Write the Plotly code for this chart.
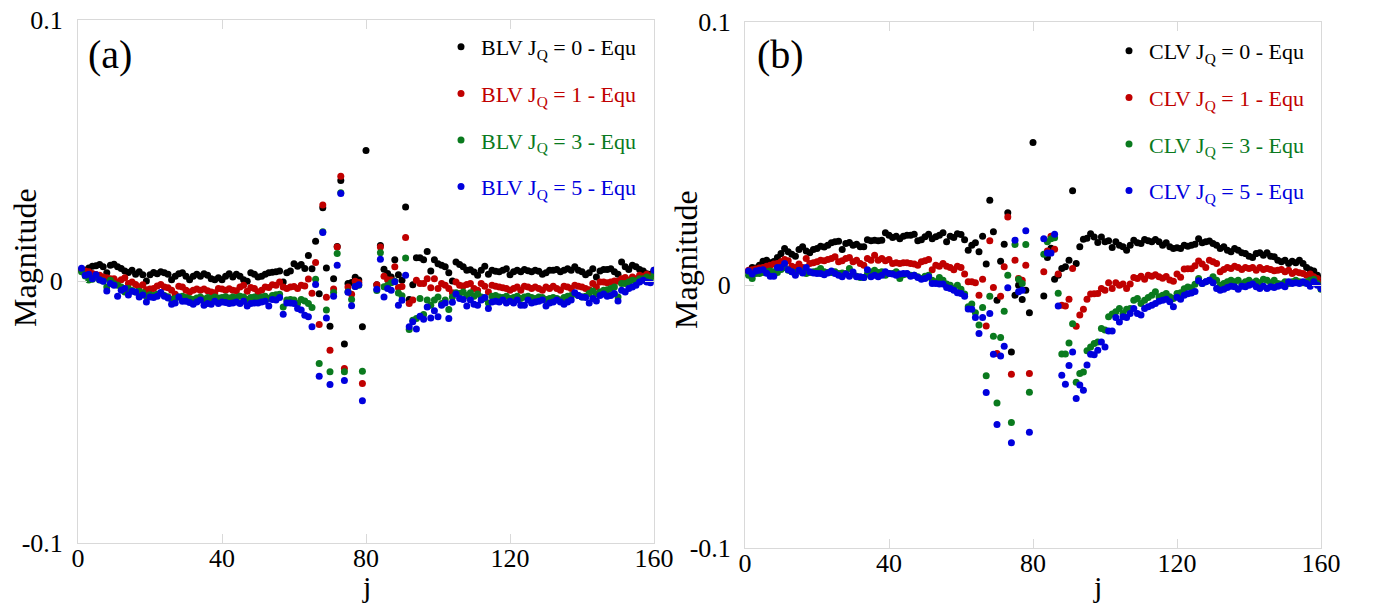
import plotly.graph_objects as go

# site index j = 1..160
j = list(range(1, 161))

# ---- Panel (a): BLV minus equilibrium, values in units of 1e-3 ----
blv_jq0 = [4.5, 4.2, 5.1, 5.7, 5.9, 6.4, 5.5, 3.2, 6.1, 6.5,
           5.5, 4.9, 3.9, 3.3, 4.2, 2.7, 3.6, 2.5, 0.1, 2.5,
           3.3, 2.9, 3.6, 3.2, 2.7, 0.6, 1.9, 2.9, 3.2, 1.9,
           0.6, 1.9, 2.7, 1.9, 2.9, 2.3, 1.0, 0.6, 1.3, 0.6,
           1.9, 2.9, 1.6, 2.7, 1.9, 0.6, 0.0, 3.2, 2.7, 1.6,
           1.9, 2.7, 3.2, 3.4, 3.6, 3.9, -0.3, 3.2, 3.9, 6.7,
           5.7, 6.4, 4.9, 9.8, 4.8, 15.3, -4.8, 28.1, 5.1, -17.2,
           1.0, 13.3, 38.5, -24.0, -0.9, -0.5, 1.5, 0.5, -17.4, 50.0,
           None, None, -1.3, 13.7, 4.6, 3.0, 1.6, 8.2, 2.5, 0.4,
           28.4, -7.0, -1.3, 9.0, 9.0, 8.2, 11.4, 3.9, 8.2, 6.7,
           6.1, 5.5, 3.2, 0.1, 7.4, 6.4, 5.5, 4.2, 4.4, 3.5,
           2.3, 4.2, 5.7, 2.7, 4.2, 3.8, 3.6, 4.2, 4.8, 2.5,
           3.6, 4.2, 3.6, 4.5, 4.0, 3.6, 4.2, 3.8, 2.7, 3.2,
           4.2, 4.2, 4.5, 3.6, 4.2, 4.8, 4.2, 5.5, 4.2, 3.6,
           2.5, 3.2, 4.8, 1.6, 3.9, 4.5, 4.5, 4.8, 3.6, 2.7,
           7.4, 5.5, 4.5, 6.1, 5.5, 4.5, 3.9, 2.9, 2.7, 4.2]
blv_jq1 = [4.2, 3.9, 3.6, 3.0, 2.6, 2.3, 1.6, 1.3, 1.0, 1.0,
           -0.3, 0.6, 1.3, -0.9, -0.3, -1.2, -2.2, -1.3, -3.2, -3.0,
           -2.8, -1.8, -1.2, -2.2, -2.5, -3.4, -5.0, -1.9, -2.2, -3.4,
           -4.1, -3.4, -3.0, -3.4, -3.0, -3.6, -4.1, -4.4, -2.8, -3.0,
           -3.4, -2.9, -3.4, -3.6, -2.2, -1.5, -3.8, -2.4, -2.8, -4.1,
           -3.4, -2.2, -2.4, -1.3, -1.5, -0.3, -2.2, -2.8, -2.2, -2.0,
           -2.8, -1.5, -1.8, 0.9, -4.6, 7.2, -16.5, 29.1, -6.1, -26.4,
           -3.0, 13.1, 40.1, -33.3, -2.2, -5.0, 0.0, -0.5, -39.1, None,
           None, None, -1.3, 13.1, 1.9, 0.6, 0.5, 5.5, -2.4, -2.0,
           16.7, -8.5, -7.2, 0.4, -0.9, -0.9, 1.0, -2.5, 1.0, -2.8,
           -0.9, -1.5, -2.8, -4.4, -0.3, -1.5, -1.8, -1.2, -0.9, -2.8,
           -3.4, -0.9, -1.9, -4.1, -1.5, -1.9, -2.2, -2.5, -2.8, -3.4,
           -2.8, -2.2, -3.4, -1.9, -2.2, -2.8, -2.2, -2.8, -3.4, -2.2,
           -2.8, -1.9, -2.8, -3.4, -1.9, -2.2, -2.8, -1.5, -1.9, -2.2,
           -2.8, -3.2, -0.9, -2.2, -0.3, -0.3, -0.6, -0.3, 0.1, 0.0,
           1.0, 1.4, 0.4, 1.6, 1.0, 2.3, 1.9, 2.7, 1.6, 3.2]
blv_jq3 = [3.6, 2.0, 0.5, 0.8, 1.6, 0.5, 0.1, -2.2, 0.4, -1.0,
           -1.5, -2.2, -4.1, -2.8, -3.5, -4.1, -3.8, -4.4, -5.7, -5.2,
           -5.4, -5.0, -4.6, -5.4, -5.9, -7.0, -6.6, -6.0, -5.7, -6.2,
           -6.6, -7.0, -6.4, -6.0, -6.8, -6.2, -6.6, -6.0, -6.4, -6.2,
           -5.9, -6.4, -6.0, -6.2, -5.7, -6.0, -7.0, -6.2, -6.0, -6.4,
           -6.0, -5.7, -6.6, -5.4, -5.2, -5.0, -9.8, -7.2, -7.0, -7.2,
           -8.5, -7.0, -7.5, -8.5, -10.0, 0.8, -31.4, 18.9, -11.0, -34.6,
           -4.3, 10.6, 33.8, -34.6, -4.0, -7.0, -2.0, -1.5, -34.4, None,
           None, None, -3.5, 10.9, -2.1, -1.5, -0.6, 0.0, -4.5, -5.5,
           8.9, -18.4, -14.9, -14.2, -6.6, -12.7, -7.2, -9.2, -7.2, -6.0,
           -8.5, -7.2, -10.8, -6.0, -4.4, -4.7, -4.1, -5.4, -4.4, -5.7,
           -4.9, -6.0, -6.6, -8.3, -5.7, -5.4, -6.0, -6.2, -5.7, -6.6,
           -6.2, -5.7, -6.6, -6.0, -5.7, -6.2, -6.6, -6.0, -6.2, -7.0,
           -6.6, -6.2, -6.6, -7.2, -6.2, -5.7, -5.4, -4.9, -5.4, -6.0,
           -5.7, -4.7, -3.7, -4.9, -4.1, -3.4, -3.2, -2.8, -2.2, -6.0,
           -0.9, -0.9, -0.3, 0.4, 0.1, 1.0, 1.0, 1.6, 1.0, 2.9]
blv_jq5 = [5.0, 2.3, 2.7, 1.0, 2.5, 0.6, 0.0, -3.7, -0.9, -1.5,
           -5.7, -3.4, -2.8, -5.3, -3.8, -4.1, -6.0, -5.3, -7.9, -6.0,
           -6.2, -5.7, -4.3, -5.7, -6.4, -8.8, -8.3, -6.0, -7.6, -7.6,
           -8.1, -8.8, -7.9, -7.2, -9.2, -8.5, -8.8, -7.6, -8.5, -7.9,
           -8.1, -8.5, -8.3, -7.9, -8.5, -7.6, -9.5, -8.5, -8.3, -8.3,
           -7.9, -7.6, -9.5, -7.0, -7.2, -6.2, -12.6, -8.3, -8.3, -8.5,
           -10.4, -11.0, -13.0, -13.6, -17.4, -1.2, -36.3, 18.6, -14.0, -39.4,
           -5.7, 6.1, 33.5, -37.9, -4.2, -9.4, -2.0, -1.3, -45.7, None,
           None, None, -3.1, 8.4, -6.0, -2.8, -3.4, -0.2, -9.2, -7.3,
           2.3, -17.4, -15.5, -18.2, -13.4, -14.5, -9.8, -14.0, -11.3, -13.6,
           -9.2, -8.3, -14.2, -8.0, -4.9, -6.6, -7.0, -9.5, -7.2, -8.8,
           -9.2, -7.2, -6.2, -10.4, -7.9, -7.6, -7.9, -7.2, -8.3, -7.6,
           -8.3, -7.2, -9.2, -9.2, -7.2, -8.3, -7.9, -7.6, -7.2, -9.5,
           -8.3, -7.9, -7.2, -7.9, -8.8, -7.9, -7.2, -4.4, -5.4, -6.0,
           -6.2, -8.3, -6.6, -7.5, -5.4, -4.9, -5.7, -5.4, -4.7, -7.5,
           -3.4, -4.1, -2.8, -2.2, -1.5, -0.3, 0.4, -0.3, -0.6, 4.2]

# ---- Panel (b): CLV minus equilibrium, values in units of 1e-3 ----
clv_jq0 = [5.1, 6.7, 6.5, 7.6, 9.1, 9.5, 8.5, 9.0, 10.5, 12.0,
           13.9, 12.7, 11.8, 11.0, 13.6, 14.6, 13.0, 12.3, 13.6, 13.9,
           14.8, 14.5, 15.2, 16.1, 16.5, 16.7, 13.6, 15.8, 16.2, 15.2,
           15.6, 14.6, 14.6, 17.3, 16.9, 17.1, 16.9, 17.1, 19.9, 19.0,
           18.1, 18.6, 17.7, 18.6, 19.0, 19.0, 19.4, 16.9, 17.3, 18.4,
           19.4, 17.7, 18.4, 19.0, 19.9, 16.5, 18.6, 18.1, 19.6, 19.3,
           17.3, 13.3, 15.2, 16.1, 12.7, 18.6, 8.0, 32.3, 20.3, -5.7,
           9.1, 15.6, 27.5, -25.4, -3.8, 0.0, -5.5, -1.9, -10.5, 54.3,
           None, None, -4.1, 10.5, 14.0, 2.2, 3.8, 6.3, 7.0, 9.5,
           35.9, 8.2, 14.6, 17.5, 17.8, 19.6, 18.3, 16.2, 18.3, 16.5,
           16.9, 14.3, 16.5, 15.2, 14.6, 13.3, 15.2, 17.1, 16.1, 15.8,
           17.4, 16.9, 16.5, 17.4, 16.5, 15.2, 16.1, 14.6, 13.9, 14.2,
           13.9, 15.2, 14.8, 15.2, 15.6, 17.7, 16.1, 16.5, 16.8, 15.8,
           15.2, 13.9, 14.6, 13.3, 12.7, 13.9, 13.3, 12.3, 12.0, 11.0,
           10.5, 12.0, 12.3, 11.4, 12.3, 11.0, 10.8, 9.5, 8.9, 9.5,
           8.2, 9.1, 8.5, 9.5, 8.2, 6.7, 5.9, 5.4, 3.8, 2.3]
clv_jq1 = [5.7, 5.9, 6.1, 6.5, 6.7, 7.2, 7.6, 8.0, 8.2, 8.9,
           9.8, 9.3, 7.2, 6.7, 8.0, 6.7, 10.1, 8.2, 8.5, 8.9,
           9.5, 9.3, 9.8, 10.1, 10.8, 8.9, 9.3, 10.1, 10.5, 8.9,
           9.5, 8.2, 7.6, 10.1, 9.5, 11.4, 9.5, 10.1, 9.3, 9.8,
           8.2, 8.5, 8.2, 8.5, 8.5, 8.2, 8.0, 7.6, 8.9, 9.3,
           9.8, 5.9, 7.6, 7.2, 8.2, 7.2, 6.7, 5.9, 7.2, 6.7,
           4.2, 1.3, 1.3, 0.9, -3.8, 2.2, -15.5, 16.9, -0.9, -26.0,
           -4.2, 7.0, 25.9, -33.9, 9.5, 2.5, 1.9, 7.6, -33.6, None,
           None, None, 5.1, 13.0, 18.6, 13.7, 4.2, -7.6, -7.9, -5.4,
           6.3, -15.6, -11.4, -9.2, -5.4, -3.4, -3.3, -3.2, -1.3, -1.9,
           0.9, -1.3, 0.9, 0.0, 0.4, -1.3, 0.4, 2.9, 2.5, 3.4,
           2.2, 3.8, 3.4, 4.0, 3.2, 2.6, 3.3, 2.0, 1.5, 4.2,
           3.0, 6.1, 6.2, 6.2, 7.4, 9.2, 8.0, 6.7, 9.5, 8.9,
           8.2, 5.1, 6.0, 6.7, 6.3, 7.2, 6.7, 6.0, 6.7, 6.3,
           6.7, 5.7, 6.7, 6.0, 6.3, 6.0, 5.5, 5.7, 6.0, 5.1,
           5.7, 4.4, 5.1, 4.7, 4.4, 3.8, 4.2, 3.2, 2.5, 0.6]
clv_jq3 = [3.8, 2.5, 4.4, 4.4, 4.8, 5.1, 5.4, 5.1, 4.8, 6.0,
           6.7, 5.7, 5.1, 4.8, 5.4, 5.1, 4.4, 4.8, 5.1, 5.4,
           6.3, 5.1, 4.8, 4.8, 5.1, 4.4, 4.6, 4.4, 6.3, 4.2,
           3.4, 2.9, 2.9, 4.2, 5.0, 5.7, 4.8, 5.1, 3.8, 4.4,
           4.4, 5.1, 2.5, 4.0, 4.2, 3.8, 3.8, 3.2, 2.5, 3.4,
           3.8, 1.9, 1.3, 2.9, 1.9, 0.4, 0.0, -1.3, 0.0, -1.6,
           -3.4, -8.2, -7.2, -10.5, -15.2, -8.5, -34.5, -4.2, -19.4, -44.8,
           -19.9, -9.9, 3.8, -52.3, 15.5, 2.2, 0.6, 15.5, -40.7, None,
           None, None, 11.8, 16.5, 17.7, 18.0, -3.1, -26.2, -26.2, -22.0,
           -14.7, -36.9, -33.6, -33.0, -25.0, -23.5, -22.2, -21.6, -16.5, -17.1,
           -12.0, -11.0, -10.1, -8.9, -10.8, -9.2, -8.9, -5.7, -5.1, -7.0,
           -5.7, -4.7, -3.8, -2.5, -4.4, -3.8, -3.2, -4.4, -5.1, -3.2,
           -2.9, -1.4, -0.7, -1.0, 0.3, 2.5, 0.6, 1.3, 1.9, 3.2,
           1.9, 0.0, 0.6, 1.3, 1.9, 1.3, 1.9, 0.4, 1.3, 1.9,
           0.9, 1.6, 0.9, 2.2, 1.9, 0.9, 1.9, 0.6, 0.4, 1.3,
           0.6, 1.3, 1.9, 1.3, 0.9, 1.3, 1.9, 2.2, 0.6, -1.6]
clv_jq5 = [5.4, 4.2, 5.4, 5.7, 5.9, 4.5, 3.4, 3.4, 6.7, 6.7,
           8.2, 5.9, 5.1, 3.8, 5.7, 4.6, 6.7, 5.1, 4.6, 4.4,
           4.4, 4.0, 4.6, 5.4, 4.4, 3.8, 3.2, 4.2, 3.4, 5.0,
           3.2, 3.2, 2.9, 5.9, 3.2, 3.8, 3.2, 3.8, 5.1, 4.4,
           4.2, 3.8, 4.2, 4.4, 4.4, 3.4, 3.8, 2.9, 2.2, 2.5,
           3.2, 0.6, 0.6, 0.4, 0.4, -0.9, -1.3, -1.9, -2.9, -3.2,
           -4.2, -9.1, -9.2, -12.3, -18.4, -12.3, -40.8, -10.8, -26.3, -53.0,
           -27.0, -23.2, -1.0, -60.0, 17.1, -2.5, -1.9, 20.7, -56.0, None,
           None, None, 17.7, 12.2, 12.2, 19.4, -7.9, -34.3, -37.7, -30.6,
           -25.4, -43.1, -38.0, -40.0, -30.4, -26.3, -26.5, -24.8, -21.6, -23.5,
           -17.4, -17.4, -12.3, -14.0, -12.0, -12.3, -10.8, -8.9, -10.8, -11.4,
           -8.9, -8.2, -7.6, -7.0, -6.1, -5.7, -5.4, -6.3, -8.2, -4.6,
           -5.4, -3.8, -3.3, -3.0, -2.4, 1.7, 0.6, 1.3, 1.9, 0.9,
           -1.3, -1.9, -1.6, -0.9, -0.4, -0.6, -1.6, -0.4, -0.6, 0.0,
           0.4, -0.6, -1.3, -0.4, -1.3, -0.6, -0.9, -0.4, 0.0, -0.6,
           1.3, 0.6, 0.9, 0.6, 1.3, 0.6, -0.4, 1.3, 0.0, -1.3]

jq_values = ["0", "1", "3", "5"]
series_colors = ["#000000", "#C00000", "#0A7A1E", "#0000DD"]
x_ticks = [0, 40, 80, 120, 160]
y_ticks = [-0.1, 0, 0.1]
y_tick_text = ["-0.1", "0", "0.1"]

SERIF = "Liberation Serif, Times New Roman, serif"
W, H = 1375, 610


def to_units(vals):
    return [None if v is None else v / 1000.0 for v in vals]


fig = go.Figure()

panels = [
    ("BLV", [blv_jq0, blv_jq1, blv_jq3, blv_jq5], "x", "y", "legend"),
    ("CLV", [clv_jq0, clv_jq1, clv_jq3, clv_jq5], "x2", "y2", "legend2"),
]
for prefix, series, xa, ya, leg in panels:
    for k, (vals, col, jq) in enumerate(zip(series, series_colors, jq_values)):
        name = (f'<span style="color:{col}">{prefix} J<sub>Q</sub> = {jq} - Equ</span>')
        fig.add_trace(go.Scatter(
            x=j, y=to_units(vals), mode="markers", name=name,
            marker=dict(color=col, size=7, line=dict(width=0)),
            xaxis=xa, yaxis=ya, legend=leg, legendgroup=f"{prefix}{k}",
        ))

axis_common = dict(
    showgrid=False, zeroline=False, showline=True, linecolor="#D9D9D9",
    linewidth=1, mirror="ticks", ticks="inside", ticklen=9, tickcolor="#D9D9D9",
    tickfont=dict(family=SERIF, size=26, color="#000000"), automargin=False,
)

xdom_a = [78 / W, 654 / W]
xdom_b = [745 / W, 1321 / W]
ydom_a = [1 - 543 / H, 1 - 19.5 / H]
ydom_b = [1 - 548 / H, 1 - 22.3 / H]

fig.update_layout(
    width=W, height=H,
    margin=dict(l=0, r=0, t=0, b=0, autoexpand=False),
    paper_bgcolor="white", plot_bgcolor="white",
    font=dict(family=SERIF, color="#000000"),
    showlegend=True,
    xaxis=dict(domain=xdom_a, range=[0, 160], tickvals=x_ticks, anchor="y",
               ticklabelstandoff=-8, **axis_common),
    yaxis=dict(domain=ydom_a, range=[-0.1, 0.1], tickvals=y_ticks, ticktext=y_tick_text,
               anchor="x", ticklabelstandoff=9, **axis_common),
    xaxis2=dict(domain=xdom_b, range=[0, 160], tickvals=x_ticks, anchor="y2",
                ticklabelstandoff=-8, **axis_common),
    yaxis2=dict(domain=ydom_b, range=[-0.1, 0.1], tickvals=y_ticks, ticktext=y_tick_text,
                anchor="x2", ticklabelstandoff=8, **axis_common),
    legend=dict(x=441 / W, y=1 - 26 / H, xanchor="left", yanchor="top",
                bgcolor="rgba(0,0,0,0)", font=dict(family=SERIF, size=22),
                tracegroupgap=15, itemclick=False),
    legend2=dict(x=1109 / W, y=1 - 30 / H, xanchor="left", yanchor="top",
                 bgcolor="rgba(0,0,0,0)", font=dict(family=SERIF, size=22),
                 tracegroupgap=15, itemclick=False),
    annotations=[
        dict(text="(a)", x=86 / W, y=1 - 54 / H, xref="paper", yref="paper",
             xanchor="left", yanchor="middle", showarrow=False,
             font=dict(family=SERIF, size=40)),
        dict(text="(b)", x=755 / W, y=1 - 55 / H, xref="paper", yref="paper",
             xanchor="left", yanchor="middle", showarrow=False,
             font=dict(family=SERIF, size=40)),
        dict(text="Magnitude", x=25 / W, y=1 - 258 / H, xref="paper", yref="paper",
             textangle=-90, xanchor="center", yanchor="middle", showarrow=False,
             font=dict(family=SERIF, size=32)),
        dict(text="Magnitude", x=686 / W, y=1 - 260 / H, xref="paper", yref="paper",
             textangle=-90, xanchor="center", yanchor="middle", showarrow=False,
             font=dict(family=SERIF, size=32)),
        dict(text="j", x=366 / W, y=1 - 586 / H, xref="paper", yref="paper",
             xanchor="center", yanchor="middle", showarrow=False,
             font=dict(family=SERIF, size=30)),
        dict(text="j", x=1097 / W, y=1 - 586 / H, xref="paper", yref="paper",
             xanchor="center", yanchor="middle", showarrow=False,
             font=dict(family=SERIF, size=30)),
    ],
)

fig.write_html("out.html")
